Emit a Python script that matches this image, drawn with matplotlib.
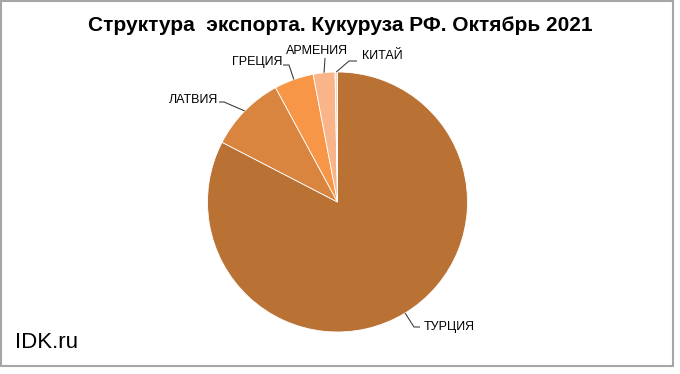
import matplotlib as mpl
mpl.use("Agg")
import matplotlib.pyplot as plt
from matplotlib import patches
import numpy as np

plt.rcParams['font.family'] = ['Liberation Sans', 'DejaVu Sans']

# data (share of exports, %)
countries = ['ТУРЦИЯ', 'ЛАТВИЯ', 'ГРЕЦИЯ', 'АРМЕНИЯ', 'КИТАЙ']
shares = [82.6, 9.5, 4.9, 2.7, 0.3]
colors = ['#B97234', '#D9843F', '#F79646', '#F9B48A', '#FBD5B8']
title = 'Структура  экспорта. Кукуруза РФ. Октябрь 2021'

W, H = 680, 374
fig = plt.figure(figsize=(W / 100, H / 100), dpi=100)
ax = fig.add_axes([0, 0, 1, 1])

# work in pixel coords, y going up
cx, cy, r = 337.5, H - 202, 130
wedges, _ = ax.pie(shares, colors=colors, startangle=90, counterclock=False,
                   center=(cx, cy), radius=r,
                   wedgeprops=dict(edgecolor='white', linewidth=0.6))
ax.set_xlim(0, W)
ax.set_ylim(0, H)
ax.set_aspect('equal')
ax.axis('off')

# label layout: text anchor (image px), alignment, elbow point (image px)
lab_pos = [(424, 327, 'left', (414, 327), (420, 327)),
           (218, 100, 'right', (224, 102), (219, 102)),
           (282, 62, 'right', (289, 65), (283, 65)),
           (317, 51, 'center', (325, 58), (325, 58)),
           (362, 56, 'left', (349, 61), (357, 61))]

for w, (tx, ty, ha, p1, p2) in zip(wedges, lab_pos):
    mid = np.deg2rad((w.theta1 + w.theta2) / 2)
    ex, ey = cx + r * np.cos(mid), cy + r * np.sin(mid)
    xs = [ex, p1[0], p2[0]]
    ys = [ey, H - p1[1], H - p2[1]]
    ax.plot(xs, ys, color='#404040', lw=0.8, solid_capstyle='butt')

for name, (tx, ty, ha, p1, p2) in zip(countries, lab_pos):
    ax.text(tx, H - ty, name, ha=ha, va='center', fontsize=9, color='#000000')

ax.text(340, H - 31, title, ha='center', va='baseline',
        fontsize=15, fontweight='bold')
ax.text(15, H - 348.5, 'IDK.ru', ha='left', va='baseline', fontsize=16)

ax.add_patch(patches.Rectangle((1, H - 366), 672, 365, fill=False,
                               edgecolor='#A6A6A6', linewidth=1.5))

plt.savefig('out.png', dpi=100)
